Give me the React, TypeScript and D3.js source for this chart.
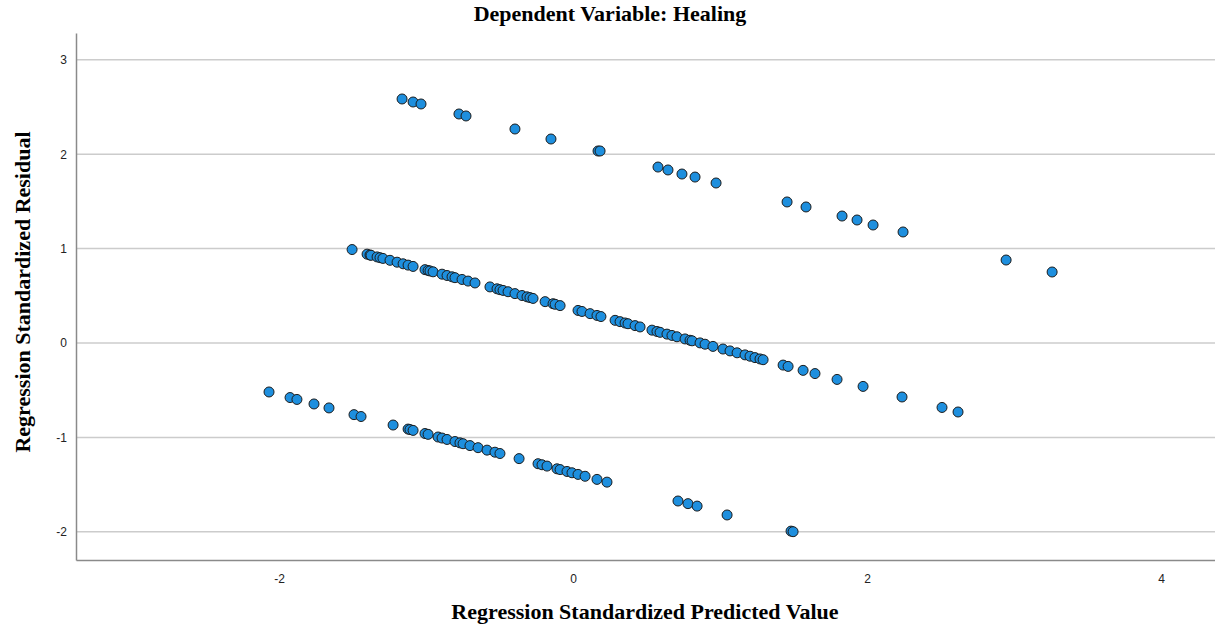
import { useEffect, useRef } from 'react';
import * as d3 from 'd3';

// predicted (x) / residual (y) pairs, one band each
const upperPredicted = [-1.163, -1.088, -1.034, -0.776, -0.728, -0.395, -0.15, 0.17, 0.184, 0.578, 0.646, 0.741, 0.83, 0.973, 1.456, 1.585, 1.83, 1.932, 2.041, 2.245, 2.946, 3.259];
const upperResidual = [2.585, 2.553, 2.532, 2.426, 2.405, 2.267, 2.161, 2.034, 2.034, 1.864, 1.833, 1.79, 1.758, 1.695, 1.494, 1.441, 1.345, 1.303, 1.25, 1.176, 0.879, 0.752];

const middlePredicted = [-1.503, -1.401, -1.381, -1.374, -1.333, -1.313, -1.293, -1.245, -1.197, -1.156, -1.122, -1.088, -1.007, -0.986, -0.973, -0.952, -0.891, -0.857, -0.823, -0.803, -0.755, -0.714, -0.667, -0.565, -0.517, -0.497, -0.476, -0.442, -0.395, -0.347, -0.313, -0.293, -0.272, -0.19, -0.136, -0.122, -0.088, 0.034, 0.061, 0.116, 0.163, 0.19, 0.286, 0.32, 0.354, 0.374, 0.422, 0.456, 0.537, 0.571, 0.592, 0.639, 0.673, 0.707, 0.762, 0.796, 0.81, 0.864, 0.898, 0.952, 1.02, 1.068, 1.116, 1.17, 1.204, 1.238, 1.272, 1.293, 1.429, 1.463, 1.565, 1.646, 1.796, 1.973, 2.238, 2.51, 2.619];
const middleResidual = [0.99, 0.941, 0.932, 0.929, 0.912, 0.904, 0.896, 0.876, 0.856, 0.839, 0.825, 0.811, 0.777, 0.768, 0.763, 0.754, 0.729, 0.715, 0.701, 0.692, 0.673, 0.656, 0.636, 0.594, 0.574, 0.565, 0.557, 0.543, 0.523, 0.503, 0.489, 0.481, 0.472, 0.438, 0.416, 0.41, 0.396, 0.345, 0.334, 0.311, 0.292, 0.28, 0.24, 0.226, 0.212, 0.204, 0.184, 0.17, 0.136, 0.122, 0.113, 0.094, 0.08, 0.066, 0.043, 0.029, 0.023, 0.001, -0.013, -0.036, -0.064, -0.084, -0.104, -0.126, -0.14, -0.155, -0.169, -0.177, -0.234, -0.248, -0.29, -0.324, -0.386, -0.46, -0.572, -0.683, -0.731];

const lowerPredicted = [-2.068, -1.925, -1.878, -1.762, -1.66, -1.49, -1.442, -1.224, -1.122, -1.109, -1.088, -1.007, -0.986, -0.918, -0.891, -0.857, -0.803, -0.769, -0.748, -0.701, -0.646, -0.585, -0.531, -0.497, -0.367, -0.238, -0.211, -0.177, -0.109, -0.088, -0.041, -0.007, 0.034, 0.082, 0.163, 0.231, 0.714, 0.782, 0.844, 1.048, 1.483, 1.497];
const lowerResidual = [-0.519, -0.578, -0.598, -0.646, -0.688, -0.759, -0.779, -0.869, -0.912, -0.917, -0.926, -0.959, -0.968, -0.996, -1.007, -1.022, -1.044, -1.058, -1.067, -1.087, -1.109, -1.135, -1.157, -1.171, -1.225, -1.279, -1.29, -1.304, -1.333, -1.341, -1.361, -1.375, -1.392, -1.412, -1.445, -1.474, -1.674, -1.702, -1.728, -1.822, -1.993, -1.999];

const xTicks = [-2, 0, 2, 4];
const yTicks = [-2, -1, 0, 1, 2, 3];

const App = () => {
    const svgRef = useRef<SVGSVGElement | null>(null);

    useEffect(() => {
        if (!svgRef.current) return;
        const svg = d3.select(svgRef.current);
        svg.selectAll('*').remove();

        const width = 1215;
        const height = 630;
        const margin = { top: 33, right: 0, bottom: 70, left: 76 };
        const serif = 'Liberation Serif, Times New Roman, serif';
        const sans = 'Liberation Sans, Arial, sans-serif';

        const x = d3.scaleLinear().domain([-3.381, 4.367]).range([margin.left, width - margin.right]);
        const y = d3.scaleLinear().domain([-2.299, 3.284]).range([height - margin.bottom, margin.top]);

        const points = [
            ...upperPredicted.map((p, i) => ({ p, r: upperResidual[i] })),
            ...middlePredicted.map((p, i) => ({ p, r: middleResidual[i] })),
            ...lowerPredicted.map((p, i) => ({ p, r: lowerResidual[i] })),
        ];

        // grid lines
        svg.append('g')
            .selectAll('line')
            .data(yTicks)
            .join('line')
            .attr('x1', margin.left)
            .attr('x2', width - margin.right)
            .attr('y1', d => y(d))
            .attr('y2', d => y(d))
            .attr('stroke', '#cccccc')
            .attr('stroke-width', 1.5);

        // axes (plain hyphen for negatives, like SPSS)
        const fmt = (d: d3.NumberValue) => String(d);
        const yAxis = svg.append('g')
            .attr('transform', `translate(${margin.left},0)`)
            .call(d3.axisLeft(y).tickValues(yTicks).tickSize(0).tickPadding(9).tickFormat(fmt));
        yAxis.select('.domain').attr('stroke', '#8a8a8a').attr('stroke-width', 1.5);
        yAxis.selectAll('text').attr('font-family', sans).attr('font-size', 12).attr('fill', '#222');

        const xAxis = svg.append('g')
            .attr('transform', `translate(0,${height - margin.bottom})`)
            .call(d3.axisBottom(x).tickValues(xTicks).tickSize(0).tickPadding(14).tickFormat(fmt));
        xAxis.select('.domain').attr('stroke', '#8a8a8a').attr('stroke-width', 1.5);
        xAxis.selectAll('text').attr('font-family', sans).attr('font-size', 12).attr('fill', '#222');

        // points
        svg.append('g')
            .selectAll('circle')
            .data(points)
            .join('circle')
            .attr('cx', d => x(d.p))
            .attr('cy', d => y(d.r))
            .attr('r', 5)
            .attr('fill', '#1e8fde')
            .attr('stroke', '#1c1c1c')
            .attr('stroke-width', 1);

        // titles
        svg.append('text')
            .attr('x', 610)
            .attr('y', 21)
            .attr('text-anchor', 'middle')
            .attr('font-family', serif)
            .attr('font-weight', 'bold')
            .attr('font-size', 22)
            .text('Dependent Variable: Healing');

        svg.append('text')
            .attr('x', 645)
            .attr('y', 619)
            .attr('text-anchor', 'middle')
            .attr('font-family', serif)
            .attr('font-weight', 'bold')
            .attr('font-size', 22)
            .text('Regression Standardized Predicted Value');

        svg.append('text')
            .attr('transform', 'translate(30,292) rotate(-90)')
            .attr('text-anchor', 'middle')
            .attr('font-family', serif)
            .attr('font-weight', 'bold')
            .attr('font-size', 22)
            .text('Regression Standardized Residual');
    }, []);

    return (
        <svg ref={svgRef} width="1215" height="630" style={{ position: 'absolute', left: 0, top: 0, background: '#fff' }}></svg>
    );
};

export default App;
